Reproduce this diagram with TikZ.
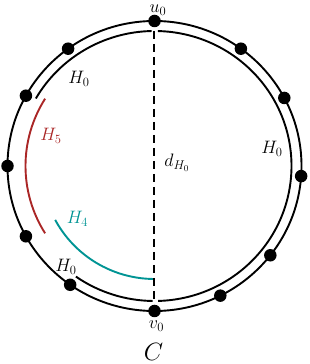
\documentclass[tikz,border=0pt]{standalone}
\usepackage{fix-cm}
\usetikzlibrary{calc}
\definecolor{hred}{RGB}{170,38,38}
\definecolor{hteal}{RGB}{0,148,148}
\tikzset{
  vtx/.style={circle,fill=black,inner sep=0pt,minimum size=12.5pt},
  lbl/.style={inner sep=0pt,font=\fontsize{18}{20}\selectfont},
  bigl/.style={inner sep=0pt,font=\fontsize{25}{27}\selectfont},
  edgeline/.style={line width=1.9pt},
}
\begin{document}
\begin{tikzpicture}[x=1pt,y=1pt]
\useasboundingbox (0,0) rectangle (309,364);
\coordinate (c) at (154.5,198);
% outer cycle C
\draw[edgeline] (c) ellipse [x radius=147, y radius=145];
% vertices on C
\foreach \a/\n in {90/u,126/a1,151/a2,180/a3,209/a4,235/a5,270/v,296.6/a6,322/a7,356/a8,28/a9,54/a10}
  \node[vtx] (\n) at ($(c)+(\a:147 and 145)$) {};
% inner H0 pieces
\draw[edgeline] ($(c)+(88.6:137 and 135)$) arc[start angle=88.6,end angle=-88.5,x radius=137,y radius=135];
\draw[edgeline] ($(c)+(91.2:137 and 135)$) arc[start angle=91.2,end angle=150,x radius=137,y radius=135];
\draw[edgeline] ($(c)+(235:137 and 135)$) arc[start angle=235,end angle=269.2,x radius=137,y radius=135];
% H5
\draw[edgeline,hred] ($(c)+(148:129 and 127)$) arc[start angle=148,end angle=212,x radius=129,y radius=127];
% H4
\draw[edgeline,hteal] ($(c)+(208.5:113 and 113)$) arc[start angle=208.5,end angle=269.3,x radius=113,y radius=113];
% d_H0
\coordinate (dtop) at (154,333);
\coordinate (dbot) at (154,64);
\draw[line width=2.1pt,dash pattern=on 8pt off 5pt] (dtop) -- (dbot);
% labels
\node[lbl] (lu) at (158,354) {$u_0$};
\node[lbl] (lv) at (156.5,38) {$v_0$};
\node[bigl] (lc) at (153.5,12.5) {$C$};
\node[lbl] (h0a) at (79,285) {$H_0$};
\node[lbl,hred] (h5) at (51,228) {$H_5$};
\node[lbl,hteal] (h4) at (77.5,145) {$H_4$};
\node[lbl] (dh) at (177,201) {$d_{H_0}$};
\node[lbl] (h0b) at (272,215) {$H_0$};
\node[lbl] (h0c) at (66,97) {$H_0$};
\end{tikzpicture}
\end{document}
